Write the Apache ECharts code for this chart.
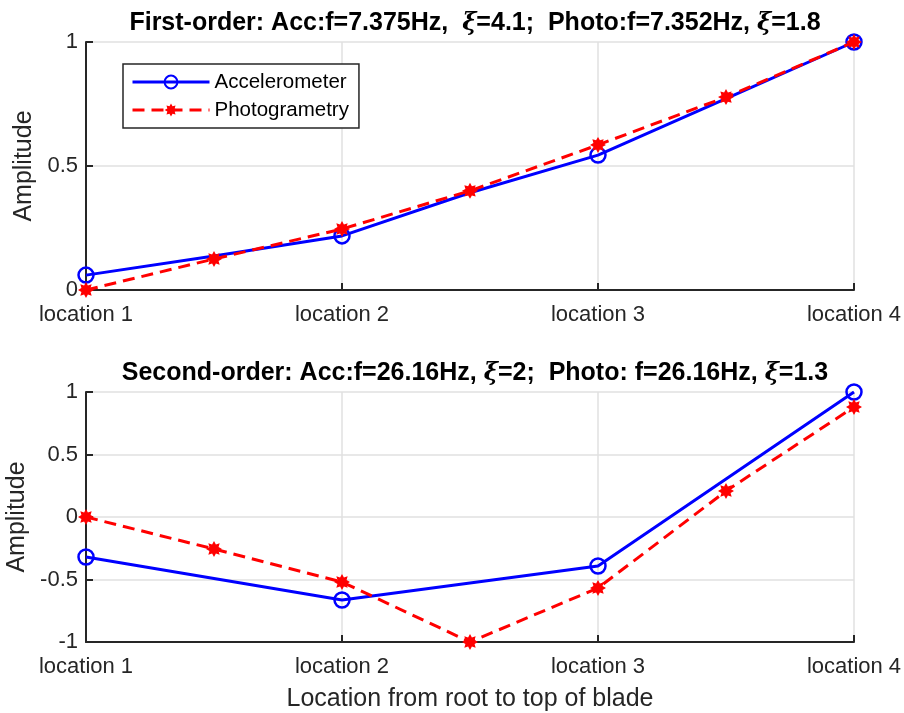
<!DOCTYPE html>
<html>
<head>
<meta charset="utf-8">
<script src="https://cdn.jsdelivr.net/npm/echarts@6/dist/echarts.min.js"></script>
<style>
  html, body { margin: 0; padding: 0; background: #fff; }
  #chart { width: 904px; height: 713px; }
</style>
</head>
<body>
<div id="chart"></div>
<script>
// Measurement stations along the blade (x positions) and their labels
const locationTicks = [1, 2, 3, 4];
const locationLabels = ['location 1', 'location 2', 'location 3', 'location 4'];
const photoPositions = [1, 1.5, 2, 2.5, 3, 3.5, 4];

// First-order mode shape
const firstAccX = [1, 1.5, 2, 2.5, 3, 3.5, 4];
const firstAccY = [0.06, 0.137, 0.218, 0.392, 0.544, 0.772, 1];
const firstAccMarked = [1, 2, 3, 4];
const firstPhotoY = [0, 0.125, 0.246, 0.40, 0.585, 0.778, 1];

// Second-order mode shape
const secondAccX = [1, 2, 3, 4];
const secondAccY = [-0.32, -0.664, -0.392, 1];
const secondPhotoY = [0, -0.256, -0.52, -1, -0.568, 0.208, 0.88];

const FONT = 'Liberation Sans, Arial, Helvetica, sans-serif';
const AX = '#262626';
const GRIDC = '#e0e0e0';
const ACC_SIZE = 15;

// Filled asterisk marker (8 arms)
function asteriskPath() {
  const pts = [];
  for (let i = 0; i < 16; i++) {
    const a = Math.PI * i / 8 - Math.PI / 2;
    const r = i % 2 === 0 ? 1 : 0.62;
    pts.push((50 + 50 * r * Math.cos(a)).toFixed(2) + ',' + (50 + 50 * r * Math.sin(a)).toFixed(2));
  }
  return 'path://M' + pts.join('L') + 'Z';
}
const STAR = asteriskPath();

const pair = (xs, ys) => xs.map((x, i) => [x, ys[i]]);

function xAxis(gridIndex, withName) {
  const ax = {
    type: 'value', gridIndex, min: 1, max: 4, interval: 1,
    axisLine: { show: true, onZero: false, lineStyle: { color: AX, width: 2 } },
    axisTick: { show: true, inside: true, length: 7, lineStyle: { color: AX, width: 2 } },
    axisLabel: {
      color: AX, fontFamily: FONT, fontSize: 22, margin: 14,
      formatter: v => locationLabels[locationTicks.indexOf(v)] || ''
    },
    splitLine: { show: true, lineStyle: { color: GRIDC, width: 1.5 } }
  };
  if (withName) {
    Object.assign(ax, {
      name: 'Location from root to top of blade', nameLocation: 'middle', nameGap: 45,
      nameTextStyle: { color: AX, fontFamily: FONT, fontSize: 25 }
    });
  }
  return ax;
}

function yAxis(gridIndex, min, max) {
  return {
    type: 'value', gridIndex, min, max, interval: 0.5,
    name: 'Amplitude', nameLocation: 'middle', nameGap: 48, nameRotate: 90,
    nameTextStyle: { color: AX, fontFamily: FONT, fontSize: 25 },
    axisLine: { show: true, onZero: false, lineStyle: { color: AX, width: 2 } },
    axisTick: { show: true, inside: true, length: 7, lineStyle: { color: AX, width: 2 } },
    axisLabel: { color: AX, fontFamily: FONT, fontSize: 22, margin: 8, formatter: v => String(v) },
    splitLine: { show: true, lineStyle: { color: GRIDC, width: 1.5 } }
  };
}

const accStyle = {
  type: 'line', name: 'Accelerometer', color: '#0000ff',
  lineStyle: { color: '#0000ff', width: 3 },
  itemStyle: { color: 'rgba(0,0,0,0)', borderColor: '#0000ff', borderWidth: 2.5 },
  symbol: 'circle', symbolSize: ACC_SIZE, showAllSymbol: true, z: 3,
  emphasis: { disabled: true }, animation: false
};
const photoStyle = {
  type: 'line', name: 'Photogrametry', color: '#ff0000',
  lineStyle: { color: '#ff0000', width: 3, type: [12, 7] },
  itemStyle: { color: '#ff0000' },
  symbol: STAR, symbolSize: 16, showAllSymbol: true, z: 4,
  emphasis: { disabled: true }, animation: false
};

const titleRich = {
  b: { fontFamily: FONT, fontSize: 25, fontWeight: 'bold', color: '#000' },
  i: { fontFamily: 'DejaVu Serif, serif', fontSize: 24, fontStyle: 'italic', color: '#000' }
};

const chart = echarts.init(document.getElementById('chart'), null, { renderer: 'canvas' });
chart.setOption({
  backgroundColor: '#fff',
  animation: false,
  title: [
    {
      text: '{b|First-order: Acc:f=7.375Hz,  }{i|ξ}{b|=4.1;  Photo:f=7.352Hz, }{i|ξ}{b|=1.8}',
      left: 470, top: 6, textAlign: 'center', textStyle: { rich: titleRich }
    },
    {
      text: '{b|Second-order: Acc:f=26.16Hz, }{i|ξ}{b|=2;  Photo: f=26.16Hz, }{i|ξ}{b|=1.3}',
      left: 470, top: 356, textAlign: 'center', textStyle: { rich: titleRich }
    }
  ],
  legend: {
    data: ['Accelerometer', 'Photogrametry'],
    left: 123, top: 64, orient: 'vertical',
    itemWidth: 77, itemHeight: 16, itemGap: 6,
    padding: [7, 10, 7, 8],
    borderColor: AX, borderWidth: 1.5, backgroundColor: '#fff',
    lineStyle: { width: 3 },
    textStyle: { color: '#000', fontFamily: FONT, fontSize: 20.5, lineHeight: 22 },
    selectedMode: false
  },
  grid: [
    { left: 86, right: 50, top: 42, height: 248, outerBoundsMode: 'none', containLabel: false },
    { left: 86, right: 50, top: 392, height: 250, outerBoundsMode: 'none', containLabel: false }
  ],
  xAxis: [xAxis(0, false), xAxis(1, true)],
  yAxis: [yAxis(0, 0, 1), yAxis(1, -1, 1)],
  series: [
    Object.assign({}, accStyle, {
      xAxisIndex: 0, yAxisIndex: 0,
      data: pair(firstAccX, firstAccY).map(p => ({
        value: p, symbolSize: firstAccMarked.includes(p[0]) ? ACC_SIZE : 0
      }))
    }),
    Object.assign({}, photoStyle, { xAxisIndex: 0, yAxisIndex: 0, data: pair(photoPositions, firstPhotoY) }),
    Object.assign({}, accStyle, { xAxisIndex: 1, yAxisIndex: 1, data: pair(secondAccX, secondAccY) }),
    Object.assign({}, photoStyle, { xAxisIndex: 1, yAxisIndex: 1, data: pair(photoPositions, secondPhotoY) })
  ]
});
</script>
</body>
</html>
